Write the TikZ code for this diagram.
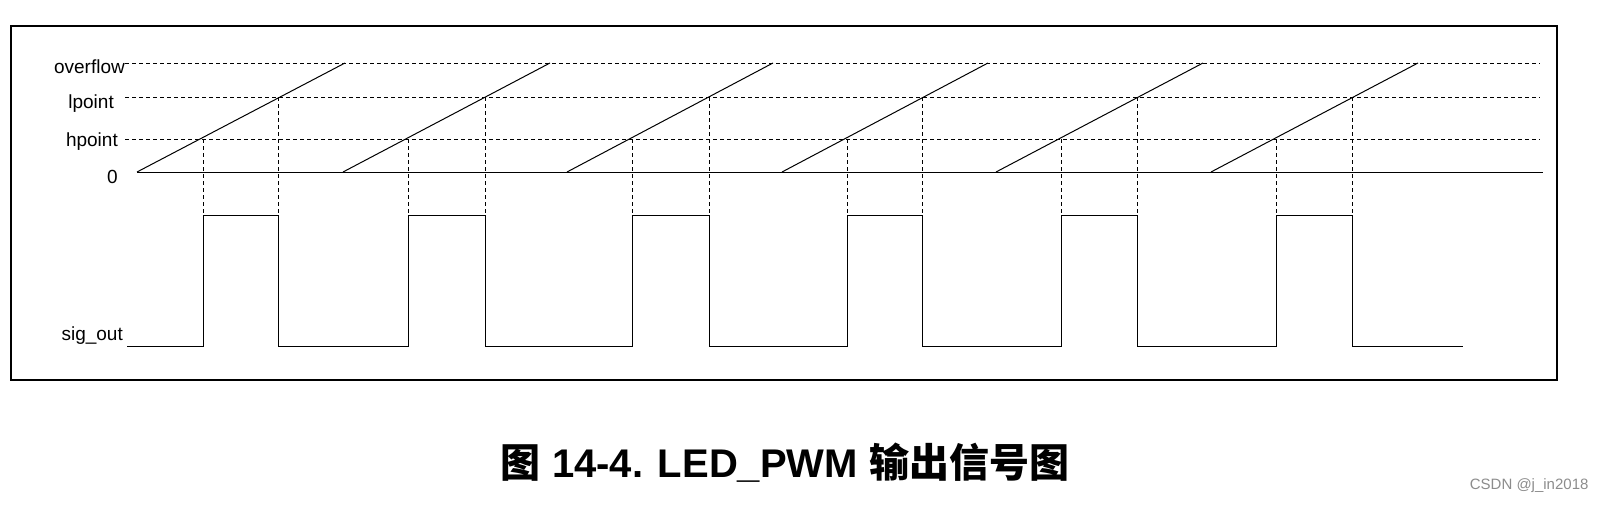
\documentclass[tikz,border=0pt]{standalone}
\usepackage{fontspec}
\setmainfont{Liberation Sans}
\newfontfamily\cjk{Noto Sans CJK SC}
\begin{document}
\begin{tikzpicture}[x=1pt,y=-1pt,
  lbl/.style={anchor=east,font=\fontsize{19}{20}\selectfont,inner sep=0pt},
  dsh/.style={dashed,dash pattern=on 4pt off 3pt,line width=0.8pt},
  sig/.style={line width=1pt}]
\draw[line width=1.5pt] (11,26) rectangle (1557,380);
\node[lbl] at (125,67) {overflow};
\node[lbl] at (114,104) {lpoint};
\node[lbl] at (118,142) {hpoint};
\node[lbl] at (118,177) {0};
\node[lbl] at (123,336) {sig\_out};
\foreach \y in {63,97,139} \draw[dsh] (125,\y) -- (1540,\y);
\draw[sig] (137,172) -- (1543,172);
\foreach \s/\e/\h/\l in {137/345/203/278, 343/550/408/485, 567/773/632/709, 782/988/847/922, 996/1203/1061/1137, 1211/1418/1276/1352}{
  \draw[sig] (\s,172) -- (\e,63);
  \draw[dsh] (\h,139) -- (\h,215);
  \draw[dsh] (\l,97) -- (\l,215);
}
\draw[sig] (127,346) -- (203,346) -- (203,215) -- (278,215) -- (278,346)
  -- (408,346) -- (408,215) -- (485,215) -- (485,346)
  -- (632,346) -- (632,215) -- (709,215) -- (709,346)
  -- (847,346) -- (847,215) -- (922,215) -- (922,346)
  -- (1061,346) -- (1061,215) -- (1137,215) -- (1137,346)
  -- (1276,346) -- (1276,215) -- (1352,215) -- (1352,346) -- (1463,346);
\node[font=\bfseries\fontsize{40}{42}\selectfont] (cap) at (785,463) {{\cjk 图} 14-4. LED\_PWM {\cjk 输出信号图}};
\node[anchor=east,text=black!45,font=\fontsize{15}{16}\selectfont] (wm) at (1592,486) {CSDN @j\_in2018};
\pgfresetboundingbox
\useasboundingbox (0,0) rectangle (1598,514);
\end{tikzpicture}
\end{document}
